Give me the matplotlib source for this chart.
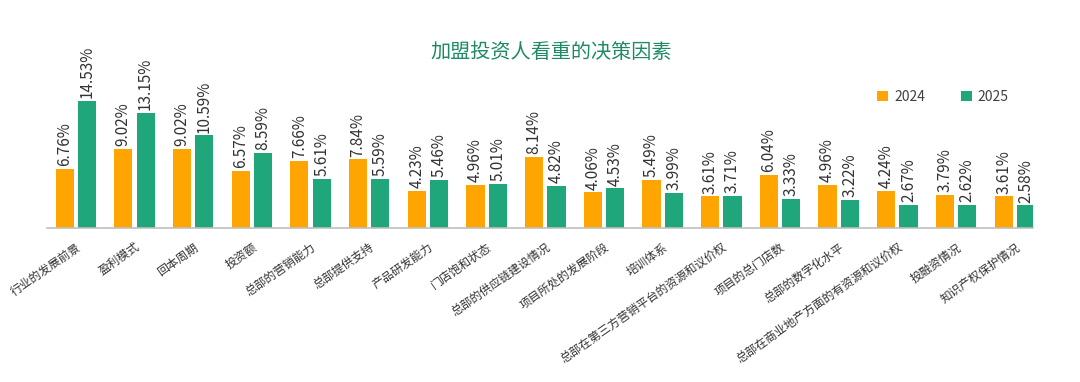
import matplotlib

matplotlib.use("Agg")
import matplotlib.pyplot as plt
import numpy as np

plt.rcParams["font.family"] = ["Noto Sans CJK SC", "DejaVu Sans"]

categories = ["行业的发展前景", "盈利模式", "回本周期", "投资额", "总部的营销能力",
              "总部提供支持", "产品研发能力", "门店饱和状态", "总部的供应链建设情况",
              "项目所处的发展阶段", "培训体系", "总部在第三方营销平台的资源和议价权",
              "项目的总门店数", "总部的数字化水平", "总部在商业地产方面的有资源和议价权",
              "投融资情况", "知识产权保护情况"]
v2024 = [6.76, 9.02, 9.02, 6.57, 7.66, 7.84, 4.23, 4.96, 8.14, 4.06, 5.49,
         3.61, 6.04, 4.96, 4.24, 3.79, 3.61]
v2025 = [14.53, 13.15, 10.59, 8.59, 5.61, 5.59, 5.46, 5.01, 4.82, 4.53, 3.99,
         3.71, 3.33, 3.22, 2.67, 2.62, 2.58]

ORANGE = "#FFA502"
GREEN = "#1FA67A"

fig = plt.figure(figsize=(10.8, 3.82), dpi=100)
ax = fig.add_axes([47 / 1080, 154 / 382, 986 / 1080, 175 / 382])

x = np.arange(len(categories))
w = 0.31
off = 0.19
b1 = ax.bar(x - off, v2024, w, color=ORANGE, label="2024")
b2 = ax.bar(x + off, v2025, w, color=GREEN, label="2025")

for bars, vals in ((b1, v2024), (b2, v2025)):
    for b, v in zip(bars, vals):
        ax.annotate(f"{v:.2f}%", (b.get_x() + b.get_width() / 2, v),
                    xytext=(0, 2), textcoords="offset points",
                    rotation=90, ha="center", va="bottom",
                    fontsize=11, color="#333333")

ax.set_xlim(-0.49, 16.31)
ax.set_ylim(0, 20)
ax.set_xticks(x)
ax.set_xticklabels(categories, rotation=35, ha="right", va="top",
                   rotation_mode="anchor", fontsize=8.5, color="#333333")
ax.tick_params(axis="x", length=0, pad=9)
ax.set_yticks([])
for s in ("top", "right", "left"):
    ax.spines[s].set_visible(False)
ax.spines["bottom"].set_color("#BFBFBF")
ax.spines["bottom"].set_linewidth(1.2)

fig.text(0.51, 1 - 52 / 382, "加盟投资人看重的决策因素", ha="center", va="center",
         fontsize=14.5, color="#1E8A66")

fig.legend(handles=[b1, b2], loc="center", bbox_to_anchor=(943 / 1080, 1 - 97 / 382),
           ncol=2, frameon=False, fontsize=10, handlelength=0.8, handleheight=0.8,
           columnspacing=2.6, handletextpad=0.4, labelcolor="#404040")

fig.savefig("out.png", dpi=100)
